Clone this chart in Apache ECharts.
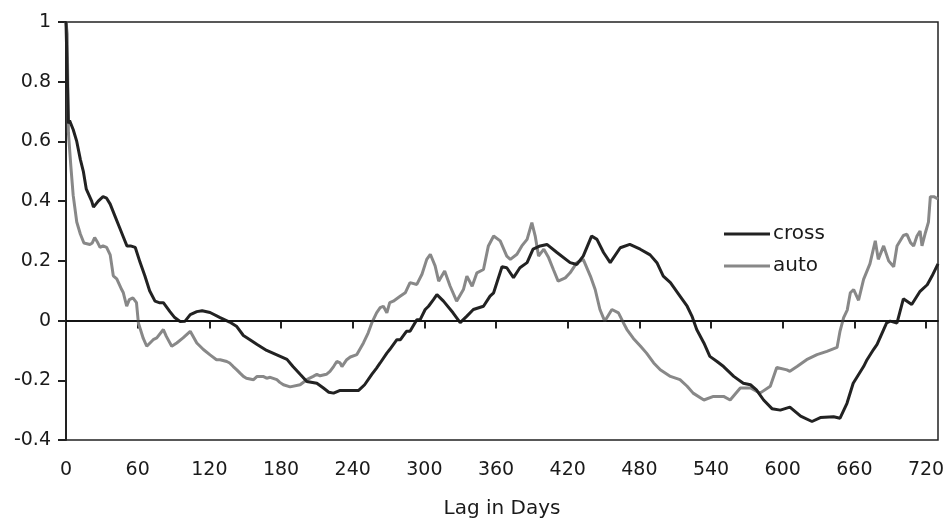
<!DOCTYPE html>
<html>
<head>
<meta charset="utf-8">
<script src="https://cdn.jsdelivr.net/npm/echarts@6/dist/echarts.min.js"></script>
<style>
html,body{margin:0;padding:0;background:#fff;}
#chart{width:945px;height:523px;}
</style>
</head>
<body>
<div id="chart"></div>
<script>
// ---- Data ----
const xTicks = [0, 60, 120, 180, 240, 300, 360, 420, 480, 540, 600, 660, 720];
const yTicks = [-0.4, -0.2, 0, 0.2, 0.4, 0.6, 0.8, 1];

const crossDays = [0,2,3,6,9,12,14.5,17,21.5,23,27,31,34,37,41,45,48,51,54,58,62,66,70,74.5,78,81.5,87,91,95.5,99.7,104,109.5,114,120.6,129,137,143,148.5,154,160,168,176.5,185,190,196,201.6,210,215.5,220,224,229.5,238,245,250,256,260,263,268.6,271,277,280,285,288,293.7,296.5,300.7,303.5,307.6,310.5,316,324,330,335.6,341,349.5,355,358,365,369,374.6,380,386,391,397,402.6,411,422,427.7,433,440,444.5,450,455.6,464,472,480.7,489,494.7,500,506,514,520,524,528,534,539,545,550.5,559,567,573,578,584,591,598,606,615,624.5,631.5,642.6,648,653.8,659,667.7,670.6,676,679,684.5,687,690,695.7,701,708,715,721,725,730];
const crossVals = [1.0,0.66,0.67,0.64,0.60,0.54,0.50,0.44,0.40,0.38,0.40,0.415,0.41,0.39,0.35,0.31,0.28,0.25,0.25,0.245,0.195,0.15,0.10,0.065,0.06,0.06,0.03,0.01,-0.003,-0.002,0.02,0.03,0.033,0.027,0.01,-0.005,-0.02,-0.05,-0.064,-0.08,-0.10,-0.115,-0.13,-0.154,-0.18,-0.204,-0.21,-0.226,-0.24,-0.243,-0.234,-0.234,-0.234,-0.215,-0.18,-0.159,-0.142,-0.109,-0.097,-0.064,-0.064,-0.036,-0.036,0.003,0.003,0.037,0.048,0.07,0.087,0.065,0.026,-0.007,0.015,0.037,0.048,0.082,0.093,0.18,0.177,0.144,0.177,0.194,0.239,0.25,0.255,0.228,0.194,0.188,0.216,0.283,0.272,0.228,0.194,0.244,0.255,0.239,0.22,0.194,0.149,0.127,0.082,0.048,0.015,-0.03,-0.075,-0.12,-0.137,-0.154,-0.187,-0.21,-0.215,-0.232,-0.266,-0.295,-0.3,-0.29,-0.32,-0.338,-0.325,-0.322,-0.327,-0.277,-0.21,-0.154,-0.131,-0.097,-0.08,-0.03,-0.008,-0.002,-0.008,0.073,0.054,0.098,0.12,0.149,0.19];

const autoDays = [0,1,2,4,6,9,12,15,20,22,24,26,28.5,31,34,37,39.6,42.5,46.6,48,50.8,53,56,59,60.6,64.7,67.6,73,76,81.5,84,88.5,92.7,98,104,109.5,115,120.6,126,129,134.6,137,140,143,145.7,148.5,151,157,160,165,168,171,176.5,179,182,187.6,196,201.6,204,207,210,212.7,218,221,224,226.7,229.5,231,235,238,243.5,249,253,256,260,263,265.7,268.6,271,274,280,284,288,293.7,298,302,305,309,312,317,321.6,327,332.7,335.6,340,344,349.5,353.6,358,363.5,369,372,377.5,381.6,386,390,392.8,395.6,400,404,408,412,418,422,427.7,433,439,443,447,451,457,462.5,466.7,469.6,475,481,486,492,497.5,506,514,520,525,534,542,550.5,556,564.5,573,581,589.6,595,603.5,606,612,620,628.7,637,645.5,648,651,654,656.6,659.4,663.5,667.7,673,677.5,680,684.5,688.7,692.9,695.7,701,704,707,709.6,712.4,715,716.6,719.5,722,723.6,726.5,728,730];
const autoVals = [1.0,0.96,0.63,0.52,0.42,0.33,0.29,0.26,0.255,0.26,0.278,0.265,0.245,0.25,0.245,0.22,0.15,0.14,0.104,0.093,0.048,0.07,0.076,0.06,-0.008,-0.06,-0.086,-0.064,-0.058,-0.03,-0.053,-0.086,-0.075,-0.058,-0.036,-0.075,-0.097,-0.115,-0.131,-0.131,-0.137,-0.142,-0.154,-0.165,-0.176,-0.187,-0.193,-0.198,-0.187,-0.187,-0.193,-0.19,-0.198,-0.207,-0.215,-0.222,-0.215,-0.198,-0.193,-0.187,-0.18,-0.185,-0.18,-0.17,-0.154,-0.137,-0.142,-0.154,-0.131,-0.122,-0.114,-0.075,-0.041,-0.008,0.026,0.043,0.048,0.026,0.06,0.065,0.082,0.093,0.127,0.121,0.155,0.205,0.222,0.183,0.132,0.166,0.115,0.065,0.104,0.149,0.115,0.16,0.171,0.25,0.283,0.267,0.216,0.205,0.222,0.25,0.272,0.328,0.283,0.216,0.239,0.211,0.171,0.132,0.143,0.16,0.194,0.205,0.149,0.104,0.037,-0.002,0.037,0.026,-0.008,-0.03,-0.06,-0.086,-0.109,-0.142,-0.165,-0.187,-0.198,-0.22,-0.243,-0.266,-0.254,-0.254,-0.266,-0.226,-0.226,-0.243,-0.22,-0.157,-0.165,-0.17,-0.154,-0.131,-0.114,-0.103,-0.09,-0.035,0.01,0.035,0.093,0.104,0.068,0.138,0.19,0.267,0.205,0.25,0.2,0.18,0.25,0.285,0.289,0.261,0.25,0.283,0.3,0.25,0.295,0.33,0.415,0.415,0.41,0.407];

const seriesNames = ['cross', 'auto'];
const xName = 'Lag in Days';

// ---- Chart ----
const pair = (xs, ys) => xs.map((x, i) => [x, ys[i]]);
const FONT = 'DejaVu Sans';
const chart = echarts.init(document.getElementById('chart'), null, {renderer: 'canvas'});
chart.setOption({
  animation: false,
  backgroundColor: '#fff',
  textStyle: {fontFamily: FONT},
  grid: {left: 66, right: 7, top: 22, bottom: 83, show: true, borderColor: '#222', borderWidth: 1.5,
    backgroundColor: 'transparent', containLabel: false, outerBoundsMode: 'none'},
  legend: {
    orient: 'vertical', left: 719, top: 219, itemGap: 12,
    icon: 'rect', itemWidth: 46, itemHeight: 3,
    textStyle: {fontFamily: FONT, fontSize: 20, color: '#1a1a1a', padding: [0, 0, 0, -2]},
    data: seriesNames
  },
  xAxis: {
    type: 'value', min: 0, max: 730, interval: 60,
    name: xName, nameLocation: 'middle', nameGap: 59,
    nameTextStyle: {fontFamily: FONT, fontSize: 20, color: '#1a1a1a'},
    axisLine: {show: true, lineStyle: {color: '#222', width: 2}},
    axisTick: {show: true, length: 8, lineStyle: {color: '#222', width: 2}, customValues: xTicks},
    axisLabel: {fontFamily: FONT, fontSize: 19, color: '#1a1a1a', margin: 21, customValues: xTicks},
    splitLine: {show: false}
  },
  yAxis: {
    type: 'value', min: -0.4, max: 1, interval: 0.2,
    axisLine: {show: true, lineStyle: {color: '#222', width: 2}},
    axisTick: {show: true, length: 8, lineStyle: {color: '#222', width: 2}},
    axisLabel: {fontFamily: FONT, fontSize: 19, color: '#1a1a1a', margin: 15,
      formatter: v => String(Math.round(v * 10) / 10)},
    splitLine: {show: false}
  },
  series: [
    {
      name: seriesNames[0], type: 'line', data: pair(crossDays, crossVals),
      showSymbol: false, symbol: 'none', z: 3,
      lineStyle: {color: '#222', width: 3}, itemStyle: {color: '#222'},
      markLine: {silent: true, symbol: 'none', label: {show: false},
        lineStyle: {color: '#111', width: 1.5, type: 'solid'}, data: [{yAxis: 0}]}
    },
    {
      name: seriesNames[1], type: 'line', data: pair(autoDays, autoVals),
      showSymbol: false, symbol: 'none', z: 2,
      lineStyle: {color: '#888', width: 3}, itemStyle: {color: '#888'}
    }
  ]
});
</script>
</body>
</html>
